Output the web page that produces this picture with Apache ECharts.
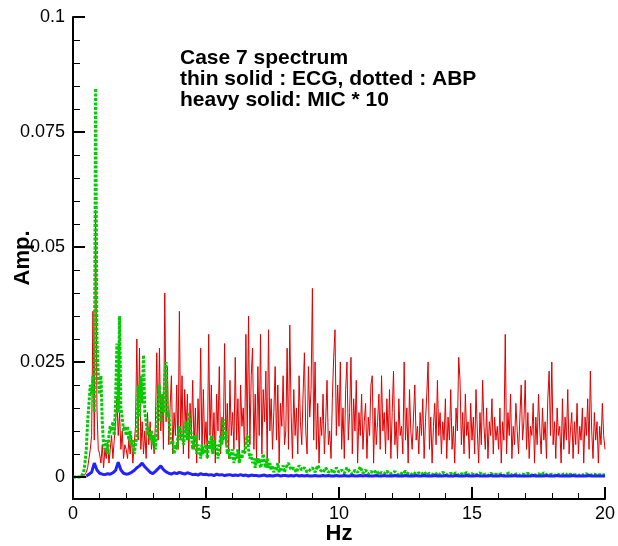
<!DOCTYPE html>
<html>
<head>
<meta charset="utf-8">
<script src="https://cdn.jsdelivr.net/npm/echarts@6/dist/echarts.min.js"></script>
<style>
  html, body { margin: 0; padding: 0; background: #fff; }
  #chart { width: 618px; height: 546px; }
</style>
</head>
<body>
<div id="chart"></div>
<script>
// spectra, amplitudes in units of 0.001
// ECG (thin red), 0.05 Hz steps from 0 to 20 Hz, one row per Hz
var ecgStep = 0.05;
var ecgMilli = [
  0,0,0,0,0,0,0,0,0.2,0.5,1,2,4,6,9,36,8,58,15,6,
  5,3,7,2,6,4,8,3,6,9,4,8,12,17,9,14,6,10,4,7,
  6,4,8,5,9,3,7,11,30,8,28,6,12,5,10,4,14,7,12,6,
  9,5,12,27,8,28,10,18,6,40,12,24,7,15,22,5,14,9,20,6,
  36,8,22,5,19,10,18,4,16,9,21,6,15,3,17,8,28,5,19,7,
  12,4,31,9,20,6,14,3,18,10,24,5,13,8,29,7,16,4,21,9,
  14,6,26,8,17,3,20,11,15,5,31,9,35,7,22,28,6,18,4,24,
  9,31,5,19,12,23,4,32,10,17,6,14,24,8,20,3,16,11,22,7,
  10,28,6,33,14,4,19,9,15,5,22,12,7,18,27,10,5,24,13,19,
  41,8,25,6,16,3,13,9,18,5,12,21,7,10,4,17,26,32,9,20,
  11,25,6,15,4,19,25,8,14,26,5,17,10,21,3,14,9,18,6,12,
  16,4,13,9,20,22,3,15,7,12,18,6,22,10,14,5,17,8,19,4,
  14,23,7,12,4,17,9,11,5,25,8,15,3,19,10,6,13,20,8,11,
  5,14,9,17,4,12,18,25,6,13,3,11,16,7,21,9,14,5,12,8,
  17,4,13,8,19,6,11,3,15,10,26,21,7,14,5,18,9,12,4,16,
  8,13,5,19,10,3,14,7,21,11,6,15,4,12,9,17,5,13,8,11,
  6,15,3,12,8,31,5,14,9,18,4,11,7,16,10,5,13,20,8,12,
  21,6,14,4,11,9,16,3,13,7,18,10,5,15,8,12,4,17,23,9,
  25,7,12,4,15,9,11,3,17,6,13,8,19,5,10,14,4,12,7,16,
  5,11,8,15,3,13,9,17,6,23,10,4,14,8,12,3,11,7,16,9,
  6
];

// ABP (dotted green): 0.05 Hz steps up to 7.95 Hz, then 0.1 Hz steps from 8 Hz
var abpLowStep = 0.05;
var abpLowMilli = [
  0,0,0,0,0,0,0,0.5,1,3,6,12,16,20,18,22,14,84.5,30,22,
  18,22,12,7,6,8,5,9,11,10,12,9,16,29,14,35,15,13,10,11,
  9,11,8,10,7,8,5,7,9,20,13,22,16,26.5,14,12,9,11,8,10,
  7,9,6,10,17,20,12,18,14,22,25,13,14,9,7,8,5,7,6,9,
  11,8,10,7,9,12,8,14,11,9,6,8,9,5,7,6,4,7,5,6,
  7,4,8,6,9,5,8,6,7,4,6,9,7,12.5,8,10,5,6,4,5,
  6,3,5,4,6,3,5,4,6,5,7,9,6,4,5,3,4,2,4,3,
  4,2,3,5,3,2,4,2,3,1.5,2.5,1,2,1.5,3,1,2,1.5,2.5,1
];
var abpHighStart = 8;
var abpHighStep = 0.1;
var abpHighMilli = [
  2,3,1.5,2,1,2.5,1.5,2,1,1.5,
  2,1,2.5,1.5,1,2,1,1.5,0.8,2,
  1,1.5,0.8,2,1.2,0.6,1.5,1,2.2,0.8,
  1.5,0.6,1.2,0.8,1.4,0.5,1,0.7,1.3,0.6,
  0.8,1.2,0.5,0.9,0.6,1.3,0.7,0.4,1,0.6,
  0.9,0.5,1.1,0.4,0.8,0.6,0.3,0.9,0.5,1,
  0.6,0.4,0.8,0.5,0.9,0.3,0.7,0.5,1,0.4,
  0.7,0.3,0.6,0.9,0.4,0.6,0.3,0.8,0.5,0.6,
  0.4,0.7,0.3,0.6,0.9,0.4,0.5,0.7,0.3,0.6,
  0.5,0.8,0.3,0.6,0.4,0.7,0.3,0.9,0.5,0.4,
  0.6,0.3,0.7,0.4,0.5,0.8,0.3,0.6,0.4,0.5,
  0.3,0.6,0.4,0.7,0.3,0.5,0.6,0.3,0.5,0.4,
  0.5
];

// MIC * 10 (heavy blue), 0.1 Hz steps from 0 Hz, starts at 0.5 Hz
var micStep = 0.1;
var micMilli = [
  null,null,null,null,null,0.2,0.6,1,3,1.5,
  0.8,0.6,0.5,0.7,0.6,0.9,1.4,3.2,1.5,0.8,
  0.6,0.7,1,1.4,2,2.4,3,2.2,1.6,1,
  0.7,1.2,1.8,2.4,1.6,1.1,0.8,0.6,0.9,0.7,
  1,0.8,0.6,0.9,0.7,0.5,0.6,0.4,0.7,0.5,
  0.6,0.4,0.5,0.3,0.6,0.4,0.5,0.3,0.4,0.5,
  0.3,0.4,0.3,0.5,0.3,0.4,0.2,0.4,0.3,0.3,
  0.2,0.3,0.4,0.2,0.3,0.2,0.3,0.4,0.2,0.3,
  0.3,0.2,0.3,0.2,0.4,0.2,0.3,0.2,0.3,0.2,
  0.2,0.3,0.2,0.2,0.3,0.2,0.3,0.2,0.2,0.3,
  0.2,0.2,0.3,0.2,0.2,0.3,0.2,0.2,0.3,0.2,
  0.3,0.2,0.2,0.2,0.3,0.2,0.2,0.3,0.2,0.2,
  0.2,0.3,0.2,0.2,0.2,0.3,0.2,0.2,0.2,0.3,
  0.2,0.2,0.3,0.2,0.2,0.2,0.3,0.2,0.2,0.2,
  0.3,0.2,0.2,0.2,0.3,0.2,0.2,0.2,0.3,0.2,
  0.2,0.2,0.3,0.2,0.2,0.2,0.2,0.3,0.2,0.2,
  0.2,0.3,0.2,0.2,0.2,0.2,0.3,0.2,0.2,0.2,
  0.2,0.2,0.2,0.3,0.2,0.2,0.2,0.2,0.3,0.2,
  0.2,0.2,0.3,0.2,0.2,0.2,0.2,0.2,0.3,0.2,
  0.2,0.2,0.2,0.2,0.3,0.2,0.2,0.2,0.2,0.2,
  0.2
];

// short black stub along zero before the traces start
var baseFreq = [0, 0.5];
var baseVals = [0, 0];

var yMajorTicks = [0, 0.025, 0.05, 0.075, 0.1];
var yMinorTicks = [0.005, 0.01, 0.015, 0.02, 0.03, 0.035, 0.04, 0.045,
                   0.055, 0.06, 0.065, 0.07, 0.08, 0.085, 0.09, 0.095];

var titleLines = ['Case 7 spectrum', 'thin solid : ECG, dotted : ABP', 'heavy solid: MIC * 10'];

function toPairs(vals, start, step) {
  return vals.map(function (v, i) {
    return [+(start + i * step).toFixed(3), v == null ? null : v / 1000];
  });
}

var ecgData = toPairs(ecgMilli, 0, ecgStep);
var abpData = toPairs(abpLowMilli, 0, abpLowStep).concat(toPairs(abpHighMilli, abpHighStart, abpHighStep));
var micData = toPairs(micMilli, 0, micStep);
var baseData = baseFreq.map(function (f, i) { return [f, baseVals[i]]; });

var font = '"Liberation Sans", Arial, sans-serif';

var chart = echarts.init(document.getElementById('chart'));
chart.setOption({
  animation: false,
  backgroundColor: '#fff',
  title: {
    text: titleLines.join('\n'),
    left: 180,
    top: 48,
    padding: 0,
    textStyle: {
      fontFamily: font,
      fontSize: 21,
      fontWeight: 'bold',
      lineHeight: 21,
      color: '#000'
    }
  },
  grid: { left: 73, right: 13, top: 17, bottom: 47, containLabel: false, outerBoundsMode: 'none' },
  xAxis: {
    type: 'value',
    min: 0,
    max: 20,
    interval: 5,
    name: 'Hz',
    nameLocation: 'middle',
    nameGap: 24,
    nameMoveOverlap: false,
    nameTextStyle: { fontFamily: font, fontSize: 22, fontWeight: 'bold', color: '#000' },
    axisLine: { onZero: false, lineStyle: { color: '#000', width: 2 } },
    axisTick: { inside: true, length: 12, lineStyle: { color: '#000', width: 2 } },
    minorTick: { show: true, splitNumber: 5, length: 6, lineStyle: { color: '#000', width: 1 } },
    axisLabel: { margin: 6, fontFamily: font, fontSize: 18, color: '#000' },
    splitLine: { show: false }
  },
  yAxis: [{
    type: 'value',
    min: -0.0048,
    max: 0.1,
    name: 'Amp.',
    nameLocation: 'middle',
    nameRotate: 90,
    nameGap: 39,
    nameMoveOverlap: false,
    nameTextStyle: { fontFamily: font, fontSize: 22, fontWeight: 'bold', color: '#000' },
    axisLine: { onZero: false, lineStyle: { color: '#000', width: 2 } },
    axisTick: { inside: true, length: 12, customValues: yMajorTicks, lineStyle: { color: '#000', width: 2 } },
    axisLabel: { margin: 8, customValues: yMajorTicks, fontFamily: font, fontSize: 18, color: '#000' },
    splitLine: { show: false }
  }, {
    type: 'value',
    min: -0.0048,
    max: 0.1,
    position: 'left',
    axisLine: { show: false, onZero: false },
    axisTick: { inside: true, length: 7, customValues: yMinorTicks, lineStyle: { color: '#000', width: 1 } },
    axisLabel: { show: false },
    splitLine: { show: false }
  }],
  series: [{
    name: 'ECG',
    type: 'line',
    data: ecgData,
    symbol: 'none',
    lineStyle: { color: '#e00000', width: 1 }
  }, {
    name: 'ABP',
    type: 'line',
    data: abpData,
    symbol: 'none',
    lineStyle: { color: '#00cc00', width: 3, type: [3, 1.5] }
  }, {
    name: 'MIC',
    type: 'line',
    data: micData,
    symbol: 'none',
    connectNulls: false,
    lineStyle: { color: '#2222ff', width: 3 }
  }, {
    name: 'base',
    type: 'line',
    data: baseData,
    symbol: 'none',
    lineStyle: { color: '#000', width: 2 }
  }]
});
</script>
</body>
</html>
